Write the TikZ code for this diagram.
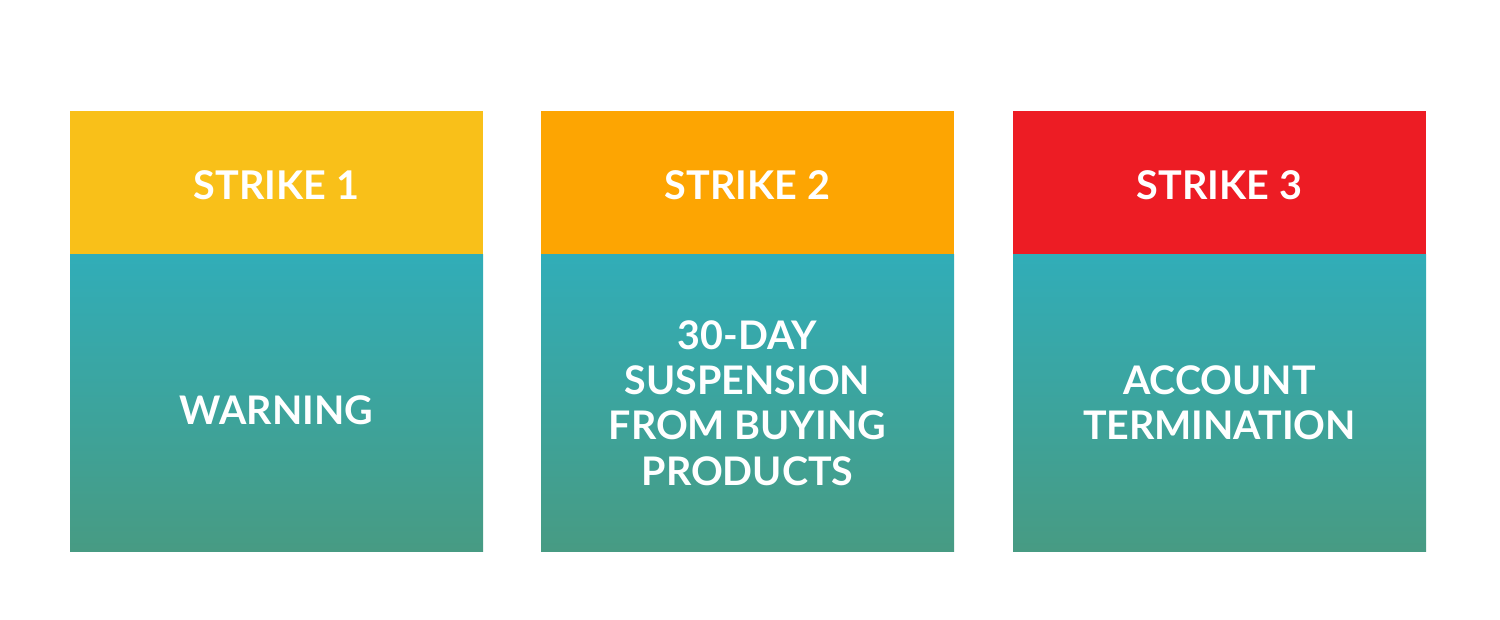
\documentclass[tikz,border=0pt]{standalone}
\usepackage{fontspec}
\setmainfont{Lato}
\definecolor{cyel}{HTML}{F9C019}
\definecolor{corg}{HTML}{FDA502}
\definecolor{cred}{HTML}{ED1C24}
\definecolor{ctop}{HTML}{31ADB8}
\definecolor{cbot}{HTML}{479B83}
\tikzset{
  hdrtext/.style={text=white,font=\bfseries\fontsize{19.8}{22}\selectfont,align=center},
  bodytext/.style={text=white,font=\bfseries\fontsize{19.7}{22.6}\selectfont,align=center},
}
\begin{document}
\begin{tikzpicture}[x=0.5pt,y=-0.5pt]
\useasboundingbox (0,0) rectangle (1500,620);
\foreach \x/\c/\n in {70/cyel/1,541/corg/2,1013/cred/3}{
  \fill[\c] (\x,111) rectangle ++(413,144);
  \shade[top color=ctop,bottom color=cbot] (\x,255) rectangle ++(413,296);
}
\node[hdrtext] (h1) at (276.5,185) {STRIKE 1};
\node[hdrtext] (h2) at (747.5,185) {STRIKE 2};
\node[hdrtext] (h3) at (1219.5,185) {STRIKE 3};
\node[bodytext] (b1) at (276.5,410) {WARNING};
\node[bodytext] (b2) at (747.5,403) {30-DAY\\SUSPENSION\\FROM BUYING\\PRODUCTS};
\node[bodytext] (b3) at (1219.5,403) {ACCOUNT\\TERMINATION};
\end{tikzpicture}
\end{document}
